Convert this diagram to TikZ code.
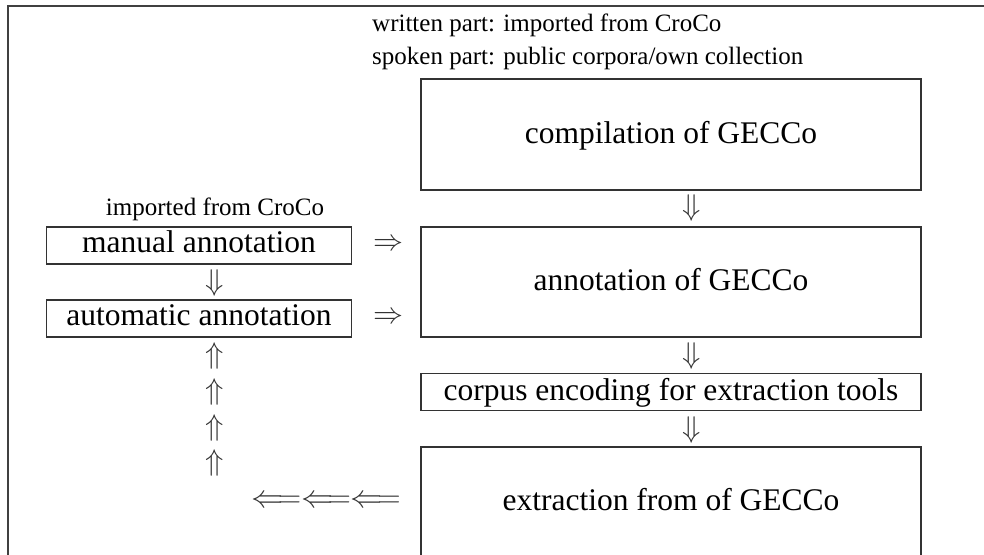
\RequirePackage{fix-cm}
\documentclass[tikz,border=0pt]{standalone}
\usepackage{fontspec}
\setmainfont{Liberation Serif}
\begin{document}
\begin{tikzpicture}[x=1pt,y=-1pt,
  frameline/.style={line width=1.8pt,draw=black!75},
  stage/.style={draw=black!80,line width=1.3pt,inner sep=0pt,
    minimum width=500pt,font=\fontsize{31.5}{36}\selectfont,
    text height=22pt,text depth=5pt},
  source/.style={draw=black!80,line width=1.3pt,inner sep=0pt,
    minimum width=305pt,minimum height=37pt,font=\fontsize{31.5}{36}\selectfont,
    text height=22pt,text depth=8pt},
  note/.style={inner sep=0pt,font=\fontsize{25}{30}\selectfont},
  glyph/.style={inner sep=0pt,text=black!80,font=\fontsize{30}{30}\selectfont}]
\useasboundingbox (0,0) rectangle (984,554);
% outer frame (only the top and left edges fall inside the page)
\draw[frameline] (8,600) -- (8,6) -- (1000,6);

% captions
\node[note,anchor=base west] (wr) at (372,31) {written part: imported from CroCo};
\node[note,anchor=base west] (sp) at (372,64) {spoken part: public corpora/own collection};
\node[note,anchor=base] (imp) at (215,215) {imported from CroCo};

% main pipeline
\node[stage,minimum height=111pt] (comp) at (671,134.5) {compilation of GECCo};
\node[stage,minimum height=110pt] (annot) at (671,282) {annotation of GECCo};
\node[stage,minimum height=37pt] (enc) at (671,392) {corpus encoding for extraction tools};
\node[stage,minimum height=110pt] (extr) at (671,502) {extraction from of GECCo};

% annotation sources
\node[source] (man) at (199,245.5) {manual annotation};
\node[source] (auto) at (199,318.5) {automatic annotation};

% arrow glyphs
\node[glyph] (d1) at (692,208) {$\Downarrow$};
\node[glyph] (d3) at (692,356) {$\Downarrow$};
\node[glyph] (d4) at (692,430) {$\Downarrow$};
\node[glyph] (r1) at (388,245) {$\Rightarrow$};
\node[glyph] (r2) at (388,318) {$\Rightarrow$};
\node[glyph] (d2) at (215,283) {$\Downarrow$};
\node[glyph] (u1) at (215,356) {$\Uparrow$};
\node[glyph] (u2) at (215,392) {$\Uparrow$};
\node[glyph] (u3) at (215,428) {$\Uparrow$};
\node[glyph] (u4) at (215,463) {$\Uparrow$};
\node[glyph,font=\fontsize{32}{32}\selectfont] (back) at (326,502)
  {$\Longleftarrow\Longleftarrow\Longleftarrow$};
\end{tikzpicture}
\end{document}
